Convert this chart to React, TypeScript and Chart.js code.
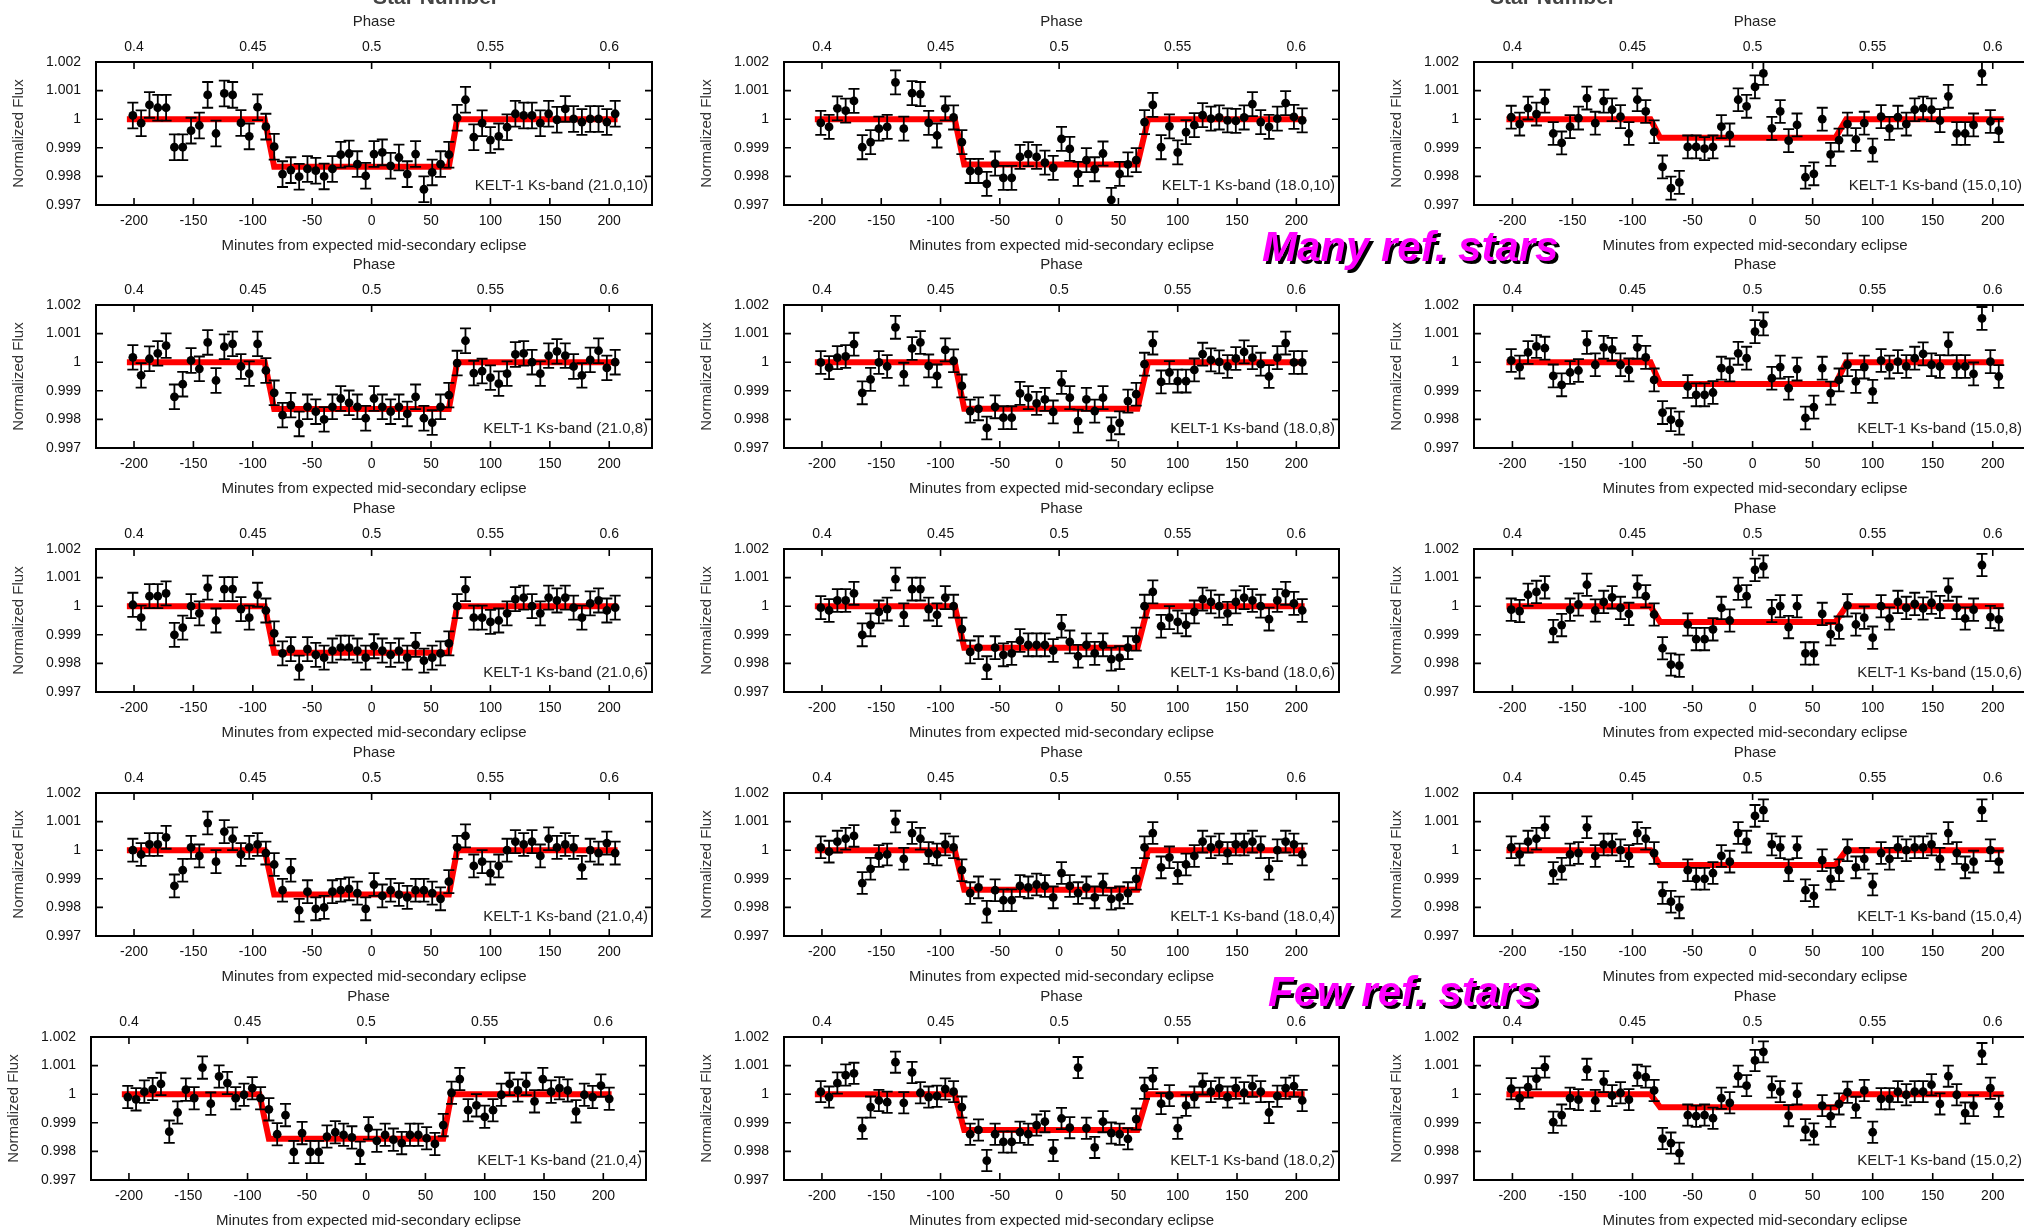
import React, { useEffect, useRef } from "react";
import { Chart, registerables } from "chart.js";

Chart.register(...registerables);

// ---------- data ----------
const TIMES = [-201,-194,-187,-180,-173,-166,-159,-152,-145,-138,-131,-124,-117,-110,-103,-96,-89,-82,-75,-68,-61,-54,-47,-40,-33,-26,-19,-12,-5,2,9,16,23,30,37,44,51,58,65,72,79,86,93,100,107,114,121,128,135,142,149,156,163,170,177,184,191,198,205];
const MINUTE_TICKS = [-200, -150, -100, -50, 0, 50, 100, 150, 200];
const PHASE_TICKS = [0.4, 0.45, 0.5, 0.55, 0.6];
const FLUX_TICKS = [0.997, 0.998, 0.999, 1, 1.001, 1.002];
const X_MIN = -232;
const X_MAX = 236;

const FLUX_21_10 = [1.00013,0.99986,1.0005,1.0004,1.0004,0.99902,0.99902,0.9996,0.99978,1.00085,0.9995,1.0009,1.00085,0.99987,0.9994,1.00042,0.99974,0.99904,0.99808,0.99822,0.99799,0.99826,0.9982,0.998,0.99826,0.99876,0.9988,0.99843,0.99802,0.99878,0.99884,0.99837,0.99866,0.99808,0.99878,0.99755,0.99814,0.99843,0.99876,1.00005,1.00068,0.99937,0.99986,0.99927,0.9994,0.99972,1.00019,1.00013,1.00013,0.99986,1.00019,0.99998,1.00036,1.00001,0.9999,1.00001,1.00001,0.9999,1.00019];
const FLUX_18_10 = [0.99987,0.99973,1.00038,1.0003,1.00064,0.99902,0.9992,0.99967,0.99973,1.00129,0.99967,1.00091,1.00088,0.99987,0.99943,1.00038,1.00006,0.9992,0.99819,0.99819,0.99774,0.99845,0.99795,0.99795,0.99868,0.99878,0.99868,0.99848,0.9983,0.99931,0.99896,0.99809,0.99857,0.99825,0.9988,0.99718,0.99809,0.99842,0.99857,0.9999,1.0005,0.99902,0.99975,0.99884,0.99955,0.99979,1.00014,1.00002,1.00006,0.99996,0.99994,1.00006,1.00053,0.9999,0.99973,1.00002,1.00056,1.00008,0.99996];
const FLUX_15_10 = [1.00007,0.99983,1.00039,1.00018,1.00063,0.9995,0.99917,0.99974,1.00004,1.00074,0.99986,1.00063,1.00033,1.00009,0.9995,1.00068,1.00027,0.99956,0.99833,0.99759,0.99779,0.99903,0.99903,0.99897,0.99903,0.99974,0.99945,1.00068,1.00045,1.00113,1.0016,0.99968,1.00027,0.99925,0.9998,0.99797,0.99809,1.0,0.99877,0.99927,0.99983,0.99929,0.99986,0.99892,1.00009,0.99968,1.00007,0.99983,1.00033,1.00039,1.00033,0.99995,1.0008,0.9995,0.9995,0.9998,1.0016,0.99992,0.9996];
const FLUX_21_8 = [1.00017,0.99954,1.00012,1.00031,1.00058,0.99879,0.99923,1.00006,0.99977,1.00069,0.99936,1.00054,1.00064,0.99985,0.9996,1.00064,0.99971,0.99893,0.99815,0.9985,0.99784,0.99844,0.99827,0.998,0.99844,0.99873,0.99858,0.99844,0.99804,0.99873,0.99844,0.99827,0.99844,0.99819,0.99879,0.99804,0.99789,0.99844,0.99885,0.99997,1.00075,0.99962,0.99969,0.99946,0.99925,0.9996,1.00027,1.00031,1.0,0.9996,1.00023,1.00038,1.00023,0.99985,0.99954,1.00008,1.0004,0.9998,1.0];
const FLUX_18_8 = [0.99999,0.99981,1.00016,1.0002,1.00063,0.99893,0.9994,0.99999,0.99985,1.00122,0.99958,1.00048,1.00069,0.99987,0.99952,1.00043,1.00005,0.99917,0.99829,0.99837,0.9977,0.99844,0.99806,0.99806,0.99891,0.99876,0.99856,0.9987,0.99826,0.99929,0.99876,0.99794,0.9987,0.99829,0.99876,0.99767,0.99788,0.99864,0.99888,0.99993,1.00067,0.99931,0.99964,0.99934,0.99934,0.99973,1.00028,1.00008,1.00001,0.99985,1.00013,1.00036,1.00016,0.99993,0.9995,1.00016,1.00067,0.99999,0.99999];
const FLUX_15_8 = [1.00006,0.99983,1.00034,1.00055,1.00049,0.99952,0.99921,0.99964,0.99971,1.00069,0.99991,1.00052,1.00045,0.99991,0.99973,1.00052,1.00017,0.99938,0.99824,0.99799,0.99787,0.99915,0.99886,0.99886,0.99894,0.99979,0.99973,1.00031,1.00014,1.00107,1.00134,0.99944,0.99983,0.99909,0.99976,0.99805,0.99843,0.99979,0.99892,0.99938,0.99991,0.99933,0.99983,0.99898,1.00006,0.99983,1.00002,0.99985,1.00014,1.00029,0.99991,0.99985,1.00064,0.99985,0.99985,0.99959,1.00153,1.00002,0.9995];
const FLUX_21_6 = [1.00005,0.9996,1.00035,1.00035,1.00045,0.999,0.99925,1.0,0.99975,1.00065,0.9995,1.0006,1.0006,0.9999,0.9996,1.0004,0.99985,0.99905,0.99835,0.9985,0.99785,0.9985,0.9983,0.9982,0.99845,0.99855,0.99855,0.99845,0.9982,0.9986,0.99845,0.9983,0.99845,0.9982,0.99865,0.9981,0.9982,0.99835,0.9987,1.0,1.0006,0.9996,0.9996,0.99945,0.9995,0.99975,1.00025,1.0003,1.0,0.99975,1.0003,1.0002,1.0003,0.99995,0.9996,1.0001,1.0002,0.99985,0.99995];
const FLUX_18_6 = [0.99995,0.99985,1.0002,1.0002,1.00045,0.999,0.99935,0.9998,0.9999,1.00095,0.9997,1.0006,1.0006,0.9999,0.9997,1.0003,1.0,0.9992,0.9984,0.99855,0.99785,0.99855,0.9983,0.99835,0.9988,0.99865,0.99865,0.99865,0.99845,0.9993,0.99875,0.99825,0.99865,0.99835,0.99865,0.99815,0.9982,0.99855,0.99885,1.0,1.0005,0.9993,0.9996,0.99945,0.99935,0.9998,1.00025,1.00015,1.0,0.99975,1.00015,1.0003,1.0002,1.0,0.99955,1.0002,1.00045,1.0001,0.99985];
const FLUX_15_6 = [0.99988,0.99983,1.0004,1.0005,1.00066,0.99913,0.99934,0.99988,1.00006,1.00075,0.99985,1.00015,1.00031,0.99994,0.99973,1.00069,1.00035,0.99971,0.99853,0.99796,0.99792,0.99936,0.99885,0.99885,0.99919,0.99994,0.9995,1.00061,1.00035,1.00127,1.00139,0.99983,1.0,0.99927,1.0,0.99835,0.99835,0.99973,0.99902,0.99925,1.00003,0.99936,0.9996,0.9989,1.0,0.99957,1.00015,0.99994,1.00008,0.99992,1.00012,0.99997,1.00058,0.99994,0.99957,0.99988,1.00144,0.99962,0.99954];
const FLUX_21_4A = [1.0,0.99985,1.0002,1.0002,1.00045,0.99875,0.9993,1.0001,0.9998,1.00095,0.9996,1.00065,1.0004,0.99985,1.0001,1.0002,0.9999,0.9995,0.9986,0.9993,0.9979,0.99855,0.99795,0.998,0.99855,0.9986,0.99865,0.9985,0.99795,0.9988,0.9984,0.9986,0.99845,0.99835,0.9986,0.9986,0.9985,0.9983,0.9989,1.0001,1.0005,0.99945,0.9996,0.9992,0.99945,1.0,1.0003,1.0002,1.0003,0.9998,1.0004,1.0001,1.0002,1.0001,0.9994,1.0,0.9999,1.00025,0.9999];
const FLUX_18_4 = [1.0001,0.99995,1.0003,1.0004,1.0005,0.99885,0.99935,0.9998,0.99985,1.001,0.9997,1.0006,1.0004,0.9999,0.99985,1.0002,1.0001,0.9993,0.9985,0.9987,0.99785,0.9986,0.99825,0.99825,0.99875,0.9987,0.9988,0.99875,0.99835,0.9992,0.99875,0.9985,0.9987,0.99835,0.9988,0.9983,0.99835,0.9985,0.999,1.0001,1.0006,0.9994,0.99975,0.9992,0.9995,0.9998,1.0003,1.0001,1.0002,0.9999,1.0002,1.0002,1.0003,1.0001,0.99935,1.0,1.0003,1.0002,0.99985];
const FLUX_15_4 = [1.0001,0.99985,1.0003,1.0004,1.0008,0.9992,0.99935,0.99985,0.9999,1.0008,0.9998,1.0002,1.0002,1.0,0.9998,1.0006,1.0004,0.9999,0.9985,0.9982,0.998,0.9993,0.999,0.999,0.9992,0.9998,0.9996,1.0006,1.0003,1.0012,1.0014,1.0002,1.0001,0.9993,1.0001,0.9986,0.9984,0.99965,0.999,0.9993,1.0,0.9994,0.9997,0.9988,0.9999,0.9997,1.0001,1.0,1.0001,1.0001,1.0002,0.9997,1.0006,0.9999,0.9994,0.9996,1.0014,1.0,0.9996];
const FLUX_21_4B = [0.9999,0.99982,1.00009,1.00018,1.00036,0.99869,0.99936,1.00016,0.99986,1.00093,0.99967,1.00062,1.00039,0.99986,0.99998,1.00021,0.99986,0.99947,0.9986,0.99927,0.99798,0.99864,0.99798,0.99798,0.99852,0.99867,0.99858,0.99849,0.99795,0.99881,0.99837,0.99858,0.99841,0.99829,0.99858,0.99858,0.99846,0.99826,0.99892,1.00005,1.00053,0.99944,0.99961,0.99921,0.99944,0.99998,1.00036,1.00013,1.00036,0.99975,1.00053,1.00009,1.00021,1.00013,0.9994,0.99998,0.9999,1.0003,0.99984];
const FLUX_18_2 = [1.00009,0.9999,1.00039,1.00067,1.00073,0.99881,0.99955,0.99978,0.99972,1.00112,0.9997,1.00076,1.00005,0.9999,0.99993,1.00018,1.00009,0.99955,0.9986,0.99875,0.99768,0.9986,0.99833,0.99833,0.99867,0.9986,0.99892,0.99904,0.99803,0.99915,0.99883,1.00093,0.99881,0.99814,0.99904,0.99864,0.9986,0.99844,0.99913,1.00021,1.00055,0.99967,0.99995,0.99881,0.99961,0.9999,1.00036,1.00009,1.00021,0.9999,1.00021,1.00005,1.00028,1.00009,0.99936,0.99993,1.00021,1.00028,0.99978];
const FLUX_15_2 = [1.00019,0.99986,1.00025,1.00054,1.00095,0.99902,0.99927,0.99986,0.99981,1.00087,0.99978,1.00044,0.99995,1.00005,0.99981,1.00066,1.0006,1.00013,0.99845,0.99829,0.99794,0.99927,0.99923,0.99927,0.99916,0.99986,0.9997,1.00063,1.0003,1.00118,1.00148,1.00025,1.00009,0.99925,1.00001,0.99876,0.99861,0.9996,0.99923,0.99966,1.00007,0.99954,1.00013,0.99867,0.99984,0.99984,1.00009,0.99998,1.00009,1.00009,1.00033,0.99966,1.00063,0.99998,0.99934,0.9996,1.00142,1.00021,0.99958];

// model (eclipse) contact times per column, minutes
const MODEL_T_21 = [-206, -90, -82, 65, 72, 207];
const MODEL_T_18 = [-206, -88, -80, 66, 75, 207];
const MODEL_T_15 = [-205, -85, -77, 69, 78, 209];

// eclipse depth level (model floor) per panel, row by row
const DEPTHS = [
  0.99834, 0.99842, 0.99935,
  0.99836, 0.99837, 0.99924,
  0.99837, 0.99855, 0.99945,
  0.99845, 0.99862, 0.99948,
  0.99844, 0.99875, 0.99954,
];
// error-bar half-length per panel
const ERRS = [
  0.00045, 0.00042, 0.00040,
  0.00043, 0.00040, 0.00040,
  0.00042, 0.00040, 0.00039,
  0.00040, 0.00038, 0.00038,
  0.00039, 0.00037, 0.00037,
];
const LABELS = [
  "KELT-1 Ks-band (21.0,10)", "KELT-1 Ks-band (18.0,10)", "KELT-1 Ks-band (15.0,10)",
  "KELT-1 Ks-band (21.0,8)", "KELT-1 Ks-band (18.0,8)", "KELT-1 Ks-band (15.0,8)",
  "KELT-1 Ks-band (21.0,6)", "KELT-1 Ks-band (18.0,6)", "KELT-1 Ks-band (15.0,6)",
  "KELT-1 Ks-band (21.0,4)", "KELT-1 Ks-band (18.0,4)", "KELT-1 Ks-band (15.0,4)",
  "KELT-1 Ks-band (21.0,4)", "KELT-1 Ks-band (18.0,2)", "KELT-1 Ks-band (15.0,2)",
];
const SERIES = [
  FLUX_21_10, FLUX_18_10, FLUX_15_10,
  FLUX_21_8, FLUX_18_8, FLUX_15_8,
  FLUX_21_6, FLUX_18_6, FLUX_15_6,
  FLUX_21_4A, FLUX_18_4, FLUX_15_4,
  FLUX_21_4B, FLUX_18_2, FLUX_15_2,
];
const MODEL_TIMES = [MODEL_T_21, MODEL_T_18, MODEL_T_15];

// ---------- layout ----------
const COL_LEFT = [96, 784, 1474];
const COL_WIDTH = [556, 555, 562];
const LABEL_INSET = [4, 4, 14];
const ROW_TOP = [62, 305, 549, 793, 1037];
const BOX_H = 143;
const M_LEFT = 100, M_TOP = 62, M_RIGHT = 12, M_BOTTOM = 56;
const FAMILY = "'Liberation Sans', Arial, Helvetica, sans-serif";

const fmt = (v: number) => String(parseFloat(Number(v).toFixed(4)));

const framePlugin = {
  id: "frame",
  afterDatasetsDraw(chart: any) {
    const { ctx, chartArea: a, scales } = chart;
    const ds = chart.data.datasets[0];
    const meta = chart.getDatasetMeta(0);
    const y = scales.y;
    const err = ds.errorBar || 0.0004;
    ctx.save();
    ctx.beginPath();
    ctx.rect(a.left, a.top, a.right - a.left, a.bottom - a.top);
    ctx.clip();
    ctx.strokeStyle = "#000";
    ctx.lineWidth = 1.8;
    ds.data.forEach((p: any, i: number) => {
      const el = meta.data[i];
      if (!el) return;
      const px = el.x;
      const t = y.getPixelForValue(p.y + err);
      const b = y.getPixelForValue(p.y - err);
      ctx.beginPath();
      ctx.moveTo(px, t); ctx.lineTo(px, b);
      ctx.moveTo(px - 5.5, t); ctx.lineTo(px + 5.5, t);
      ctx.moveTo(px - 5.5, b); ctx.lineTo(px + 5.5, b);
      ctx.stroke();
    });
    ctx.restore();
  },
  afterDraw(chart: any) {
    const { ctx, chartArea: a, scales } = chart;
    const L = 7;
    ctx.save();
    ctx.strokeStyle = "#000";
    ctx.lineWidth = 1.6;
    ctx.beginPath();
    MINUTE_TICKS.forEach((v) => {
      const px = scales.x.getPixelForValue(v);
      ctx.moveTo(px, a.bottom); ctx.lineTo(px, a.bottom - L);
    });
    PHASE_TICKS.forEach((v) => {
      const px = scales.x2.getPixelForValue(v);
      ctx.moveTo(px, a.top); ctx.lineTo(px, a.top + L);
    });
    FLUX_TICKS.forEach((v) => {
      const py = scales.y.getPixelForValue(v);
      ctx.moveTo(a.left, py); ctx.lineTo(a.left + L, py);
      ctx.moveTo(a.right, py); ctx.lineTo(a.right - L, py);
    });
    ctx.stroke();
    ctx.lineWidth = 2;
    ctx.strokeRect(a.left, a.top, a.right - a.left, a.bottom - a.top);
    ctx.restore();
  },
};

function Panel({ idx }: { idx: number }) {
  const ref = useRef<HTMLCanvasElement | null>(null);
  const row = Math.floor(idx / 3);
  const col = idx % 3;
  const boxLeft = row === 4 && col === 0 ? 91 : COL_LEFT[col];
  const boxW = row === 4 && col === 0 ? 555 : COL_WIDTH[col];
  const boxTop = ROW_TOP[row];
  const w = boxW + M_LEFT + M_RIGHT;
  const h = BOX_H + M_TOP + M_BOTTOM;

  useEffect(() => {
    if (!ref.current) return;
    const flux = SERIES[idx];
    const depth = DEPTHS[idx];
    const mt = MODEL_TIMES[col];
    const modelY = [1, 1, depth, depth, 1, 1];
    const tickFont = { size: 14, family: FAMILY };
    const titleFont = { size: 15, family: FAMILY };
    const chart = new Chart(ref.current, {
      type: "scatter",
      data: {
        datasets: [
          {
            label: "data",
            data: TIMES.map((t, i) => ({ x: t, y: flux[i] })),
            backgroundColor: "#000",
            borderColor: "#000",
            pointRadius: 4.4,
            pointBorderWidth: 0,
            errorBar: ERRS[idx],
          } as any,
          {
            label: "model",
            data: mt.map((t, i) => ({ x: t, y: modelY[i] })),
            showLine: true,
            borderColor: "rgb(255,0,0)",
            borderWidth: 6,
            pointRadius: 0,
            fill: false,
          },
        ],
      },
      options: {
        animation: false,
        responsive: false,
        events: [],
        layout: { padding: { left: 0, top: 0, right: M_RIGHT, bottom: 0 } },
        plugins: { legend: { display: false }, tooltip: { enabled: false } },
        scales: {
          x: {
            type: "linear",
            position: "bottom",
            min: X_MIN,
            max: X_MAX,
            afterBuildTicks: (s: any) => { s.ticks = MINUTE_TICKS.map((v) => ({ value: v })); },
            afterFit: (s: any) => { s.height = M_BOTTOM; },
            grid: { display: false, drawTicks: false },
            border: { display: false },
            ticks: { font: tickFont, color: "#111", padding: 8, maxRotation: 0, autoSkip: false, callback: (v: any) => fmt(v) },
            title: { display: true, text: "Minutes from expected mid-secondary eclipse", font: titleFont, color: "#222", padding: { top: 0, bottom: 6 } },
          },
          x2: {
            type: "linear",
            position: "top",
            min: 0.5 + X_MIN / 2000,
            max: 0.5 + X_MAX / 2000,
            afterBuildTicks: (s: any) => { s.ticks = PHASE_TICKS.map((v) => ({ value: v })); },
            afterFit: (s: any) => { s.height = M_TOP; },
            grid: { display: false, drawTicks: false },
            border: { display: false },
            ticks: { font: tickFont, color: "#111", padding: 6, maxRotation: 0, autoSkip: false, callback: (v: any) => fmt(v) },
            title: { display: true, text: "Phase", font: titleFont, color: "#222", padding: { top: 13, bottom: 0 } },
          },
          y: {
            type: "linear",
            position: "left",
            min: 0.997,
            max: 1.002,
            afterBuildTicks: (s: any) => { s.ticks = FLUX_TICKS.map((v) => ({ value: v })); },
            afterFit: (s: any) => { s.width = M_LEFT; },
            grid: { display: false, drawTicks: false },
            border: { display: false },
            ticks: { font: tickFont, color: "#111", padding: 15, autoSkip: false, callback: (v: any) => fmt(v) },
            title: { display: true, text: "Normalized Flux", font: titleFont, color: "#333", padding: { top: 14, bottom: 0 } },
          },
        },
      } as any,
      plugins: [framePlugin],
    });
    return () => chart.destroy();
  }, [idx]);

  return (
    <>
      <canvas
        ref={ref}
        width={w}
        height={h}
        style={{ position: "absolute", left: boxLeft - M_LEFT, top: boxTop - M_TOP, width: w, height: h }}
      />
      <div
        style={{
          position: "absolute",
          right: 2024 - (boxLeft + boxW - LABEL_INSET[col]),
          top: boxTop + BOX_H - 20 - 9,
          font: `15px ${FAMILY}`,
          lineHeight: "18px",
          color: "#222",
          whiteSpace: "nowrap",
        }}
      >
        {LABELS[idx]}
      </div>
    </>
  );
}

const bigText: React.CSSProperties = {
  position: "absolute",
  font: `italic bold 42px ${FAMILY}`,
  lineHeight: "42px",
  color: "#ff00ff",
  textShadow: "3px 3px 0 #000",
  whiteSpace: "nowrap",
};

const starNum: React.CSSProperties = {
  position: "absolute",
  font: `bold 21px ${FAMILY}`,
  lineHeight: "21px",
  color: "#444",
  whiteSpace: "nowrap",
  transform: "translateX(-50%)",
  top: -14,
};

export default function App() {
  return (
    <div
      style={{
        position: "fixed",
        left: 0,
        top: 0,
        width: 2024,
        height: 1227,
        overflow: "hidden",
        background: "#fff",
      }}
    >
      {SERIES.map((_, i) => (
        <Panel key={i} idx={i} />
      ))}
      <div style={{ ...starNum, left: 436 }}>Star Number</div>
      <div style={{ ...starNum, left: 1553 }}>Star Number</div>
      <div style={{ ...bigText, left: 1262, top: 226 }}>Many ref. stars</div>
      <div style={{ ...bigText, left: 1268, top: 971 }}>Few ref. stars</div>
    </div>
  );
}
